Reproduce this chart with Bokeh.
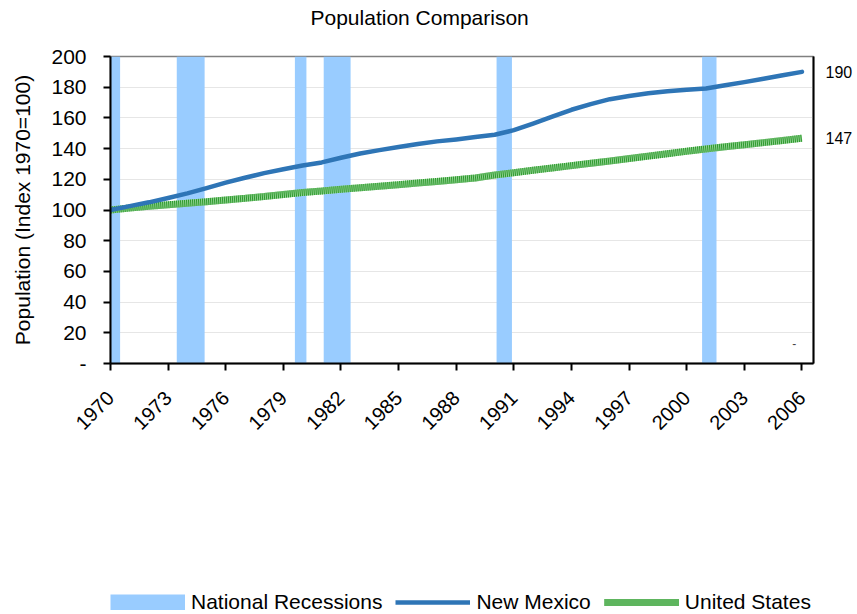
import math
from bokeh.plotting import figure
from bokeh.layouts import column
from bokeh.models import (Range1d, FixedTicker, LinearAxis, Legend, LegendItem, Label)
from bokeh.embed import file_html
from bokeh.resources import INLINE

# ---------------- data ----------------
years = list(range(1970, 2007))
new_mexico = [100.0, 102.5, 105.0, 107.8, 110.8, 114.2, 117.8, 121.0, 124.0, 126.5,
              129.0, 131.0, 134.0, 136.8, 139.0, 141.0, 143.0, 144.7, 146.0, 147.5,
              149.0, 152.0, 156.3, 160.8, 165.3, 169.0, 172.2, 174.3, 176.0, 177.3,
              178.3, 179.2, 181.3, 183.3, 185.5, 187.8, 190.0]
united_states = [100.0, 101.3, 102.4, 103.4, 104.4, 105.4, 106.5, 107.6, 108.8, 110.1,
                 111.4, 112.4, 113.5, 114.5, 115.5, 116.5, 117.6, 118.6, 119.7, 120.9,
                 122.8, 124.3, 125.9, 127.4, 128.9, 130.4, 131.9, 133.5, 135.1, 136.7,
                 138.3, 139.8, 141.2, 142.5, 143.9, 145.3, 146.8]
recession_start = [1970.0, 1973.45, 1979.6, 1981.1, 1990.1, 2000.8]
recession_end = [1970.5, 1974.9, 1980.2, 1982.5, 1990.9, 2001.55]
x_ticks = list(range(1970, 2007, 3))
y_ticks = list(range(0, 201, 20))
end_labels = [round(new_mexico[-1]), round(united_states[-1])]

FONT = "Liberation Sans"
W = 857
LEFT, RIGHT = 110, 44
REC_COLOR = "#99CCFF"
NM_COLOR = "#2E75B6"
US_LIGHT = "#8ED08E"
US_DARK = "#2E9A2E"


def strip(height, xr, yr):
    return figure(width=W, height=height, output_backend="svg", toolbar_location=None,
                  x_range=xr, y_range=yr, x_axis_type=None, y_axis_type=None,
                  min_border_left=LEFT, min_border_right=RIGHT, min_border_top=0,
                  min_border_bottom=0, outline_line_color=None)


# ---------------- title strip ----------------
tf = strip(34, Range1d(0, 1), Range1d(0, 1))
tf.add_layout(Label(x=200, y=17, x_units="screen", y_units="screen",
                    text="Population Comparison", text_font=FONT,
                    text_font_size="21px", text_align="left",
                    text_baseline="middle", text_color="black"))

# ---------------- main chart ----------------
p = figure(width=W, height=546, output_backend="svg", toolbar_location=None,
           x_range=Range1d(1970, 2006.6), y_range=Range1d(y_ticks[0], y_ticks[-1]),
           min_border_left=LEFT, min_border_right=RIGHT, min_border_top=22,
           min_border_bottom=217, background_fill_color="white",
           border_fill_color="white")

p.outline_line_color = "#808080"
p.outline_line_width = 1.5

p.quad(left=recession_start, right=recession_end,
       bottom=y_ticks[0], top=y_ticks[-1],
       fill_color=REC_COLOR, line_color=None)
p.line(years, united_states, line_color=US_LIGHT, line_width=7)
p.line(years, united_states, line_color=US_DARK, line_width=7, line_dash="1 1")
p.line(years, new_mexico, line_color=NM_COLOR, line_width=4.5,
       line_join="round", line_cap="round")

xa = p.xaxis[0]
xa.ticker = FixedTicker(ticks=x_ticks)
xa.major_label_orientation = math.pi / 4
xa.major_label_text_font = FONT
xa.major_label_text_font_size = "20px"
xa.major_label_text_color = "black"
xa.major_tick_out = 7
xa.major_tick_in = 0
xa.minor_tick_out = 0
xa.minor_tick_in = 0
xa.axis_line_width = 2
xa.axis_line_color = "black"
xa.major_tick_line_width = 2
xa.major_label_standoff = 24

ya = p.yaxis[0]
ya.ticker = FixedTicker(ticks=y_ticks)
ya.major_label_overrides = {0: "-"}
ya.major_label_text_font = FONT
ya.major_label_text_font_size = "21px"
ya.major_label_text_color = "black"
ya.major_tick_out = 7
ya.major_tick_in = 0
ya.minor_tick_out = 0
ya.minor_tick_in = 0
ya.axis_line_width = 2
ya.axis_line_color = "black"
ya.major_tick_line_width = 2
ya.major_label_standoff = 17
ya.axis_label = "Population (Index 1970=100)"
ya.axis_label_text_font = FONT
ya.axis_label_text_font_size = "21px"
ya.axis_label_text_font_style = "normal"
ya.axis_label_text_color = "black"
ya.axis_label_standoff = 14

ra = LinearAxis(ticker=FixedTicker(ticks=end_labels))
ra.major_label_text_font = FONT
ra.major_label_text_font_size = "16px"
ra.major_label_text_color = "black"
ra.major_tick_out = 0
ra.major_tick_in = 0
ra.minor_tick_out = 0
ra.minor_tick_in = 0
ra.axis_line_width = 2
ra.axis_line_color = "black"
ra.major_label_standoff = 12
p.add_layout(ra, "right")

p.xgrid.visible = False
p.ygrid.ticker = FixedTicker(ticks=y_ticks)
p.ygrid.grid_line_color = "#e6e6e6"
p.ygrid.grid_line_width = 1

p.add_layout(Label(x=2005.6, y=13, text="-", text_font=FONT,
                   text_font_size="12px", text_align="center",
                   text_baseline="middle"))

# ---------------- legend strip ----------------
lf = strip(34, Range1d(0, 1), Range1d(0, 1))
# renderers lie outside the visible range; only their legend swatches show
lg_rec = lf.line(recession_start, [y_ticks[-1]] * len(recession_start),
                 line_color=REC_COLOR, line_width=16)
lg_nm = lf.line(years, new_mexico, line_color=NM_COLOR, line_width=4.5)
lg_us1 = lf.line(years, united_states, line_color=US_LIGHT, line_width=7)
lg_us2 = lf.line(years, united_states, line_color=US_DARK, line_width=7,
                 line_dash="1 1")

legend = Legend(items=[LegendItem(label="National Recessions", renderers=[lg_rec]),
                       LegendItem(label="New Mexico", renderers=[lg_nm]),
                       LegendItem(label="United States", renderers=[lg_us1, lg_us2])],
                orientation="horizontal", location=(0, 0),
                padding=0, margin=0, spacing=13, label_standoff=6,
                glyph_width=75, glyph_height=16,
                label_text_font=FONT, label_text_font_size="21px",
                label_text_color="black",
                border_line_alpha=0, background_fill_alpha=0)
lf.add_layout(legend, "center")

layout = column(tf, p, lf, spacing=0)
open("out.html", "w").write(file_html(layout, INLINE))
